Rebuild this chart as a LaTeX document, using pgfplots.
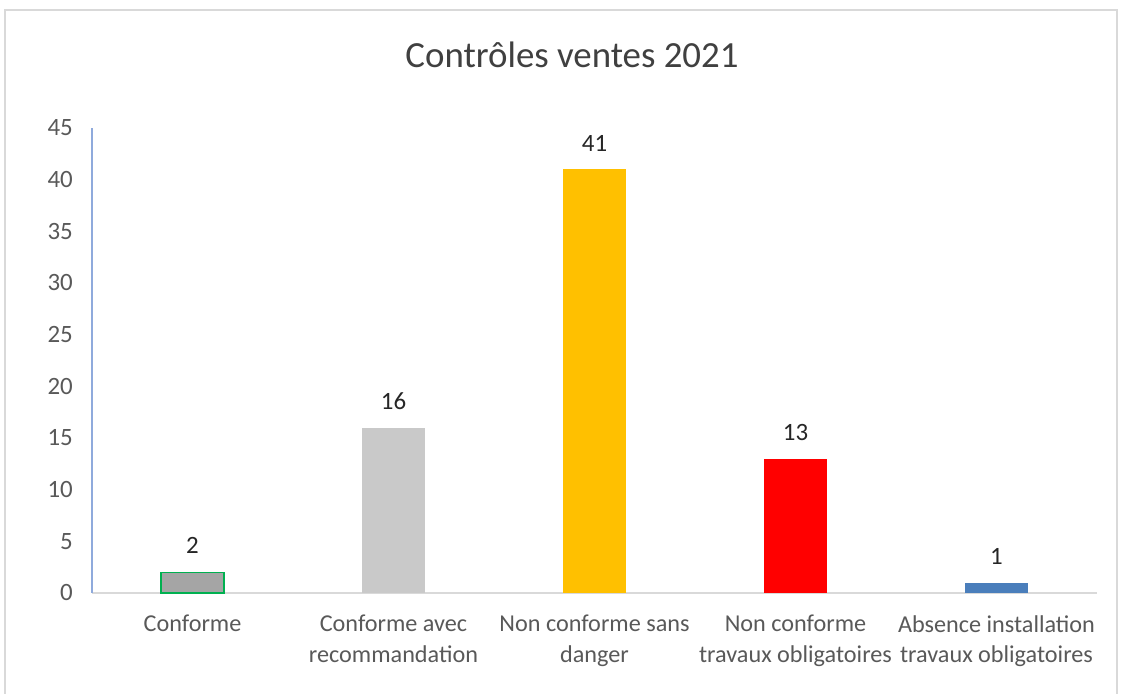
\documentclass[border=0pt]{standalone}
\usepackage{pgfplots}
\pgfplotsset{compat=1.18}
\usepackage{fontspec}
\setmainfont{Carlito}
\definecolor{tickgray}{HTML}{595959}
\definecolor{titlegray}{HTML}{404040}
\definecolor{datacol}{HTML}{262626}
\definecolor{gris1}{HTML}{A5A5A5}
\definecolor{vert}{HTML}{00B050}
\definecolor{gris2}{HTML}{C9C9C9}
\definecolor{or}{HTML}{FFC000}
\definecolor{rouge}{HTML}{FF0000}
\definecolor{bleu}{HTML}{4A7EBB}
\definecolor{axeblue}{HTML}{8FAADC}
\definecolor{axegray}{HTML}{D9D9D9}
\definecolor{cadre}{HTML}{D9D9D9}
\begin{document}
\begin{tikzpicture}[x=1bp,y=1bp]
\path[use as bounding box] (-92,-101) rectangle (1031,593);
\fill[white] (-92,-101) rectangle (1031,593);
\draw[cadre,line width=1.5bp] (-87,-110) rectangle (1025,583);
\begin{axis}[
  at={(0,0)}, anchor=south west,
  scale only axis,
  width=1005bp, height=465bp,
  xmin=-0.5, xmax=4.5, ymin=0, ymax=45,
  ytick={0,5,...,45},
  xtick={0,1,2,3,4},
  xticklabels={Conforme, {Conforme avec\\recommandation}, {Non conforme sans\\danger}, {Non conforme\\travaux obligatoires}, {Absence installation\\travaux obligatoires}},
  xticklabel style={align=center, font=\fontsize{24.3}{30.5}\selectfont, text=tickgray, inner sep=0pt, anchor=north, yshift=-22bp},
  yticklabel style={font=\fontsize{25}{28}\selectfont, text=tickgray, inner sep=0pt, anchor=east, xshift=-19bp},
  /pgf/number format/assume math mode=true,
  major tick length=0pt,
  axis x line=bottom, axis y line=left,
  x axis line style={-, draw=axegray, line width=1.5bp},
  y axis line style={-, draw=axeblue, line width=1.2bp},
  ybar, bar width=63bp, bar shift=0pt,
  nodes near coords,
  every node near coord/.append style={font=\fontsize{25}{28}\selectfont, text=datacol, anchor=south, inner sep=0pt, yshift=18bp},
  clip=false,
]
\addplot[fill=gris1, draw=vert, line width=1.5bp] coordinates {(0,2)};
\addplot[fill=gris2, draw=none] coordinates {(1,16)};
\addplot[fill=or, draw=none] coordinates {(2,41)};
\addplot[fill=rouge, draw=none] coordinates {(3,13)};
\addplot[fill=bleu, draw=none] coordinates {(4,1)};
\end{axis}
\node[text=titlegray, font=\fontsize{37}{40}\selectfont] at (480,538) {Contrôles ventes 2021};
\end{tikzpicture}
\end{document}
